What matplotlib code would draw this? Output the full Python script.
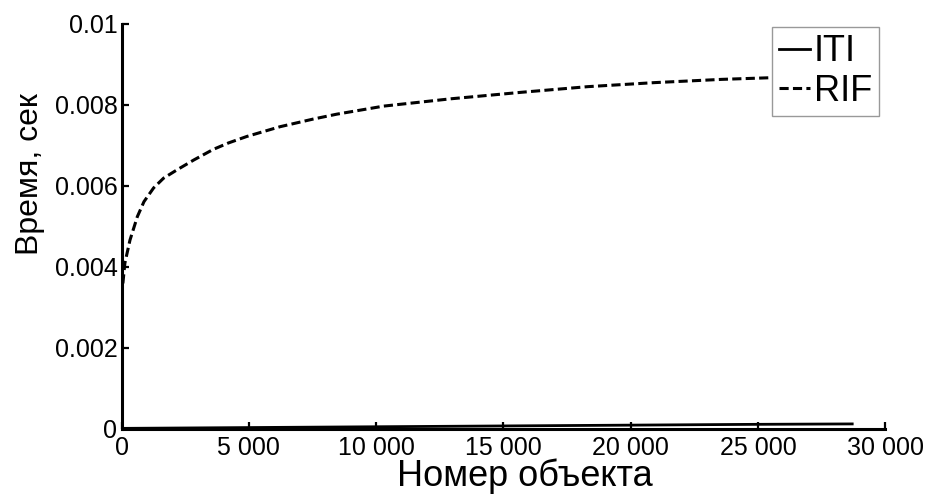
import matplotlib
matplotlib.use('Agg')
import matplotlib.pyplot as plt

# RIF curve
rif_x = [0, 130, 330, 620, 880, 1260, 1650, 2190, 2840, 3600, 4200, 4920, 6220,
         7530, 8450, 10300, 12930, 15690, 18310, 20940, 23570, 25930, 28700]
rif_y = [0.00326, 0.00409, 0.00466, 0.00524, 0.00561, 0.00595, 0.00619, 0.00640,
         0.00664, 0.00690, 0.00706, 0.00722, 0.00746, 0.00765, 0.00777, 0.00797,
         0.00815, 0.00831, 0.00845, 0.00855, 0.00863, 0.00868, 0.00873]

# ITI stays close to zero
iti_x = [0, 5000, 10000, 15000, 20000, 25000, 28700]
iti_y = [0.00001, 0.00003, 0.00005, 0.00007, 0.00009, 0.00011, 0.00012]

xticks = [0, 5000, 10000, 15000, 20000, 25000, 30000]
xtick_labels = ['0', '5 000', '10 000', '15 000', '20 000', '25 000', '30 000']
yticks = [0, 0.002, 0.004, 0.006, 0.008, 0.01]
ytick_labels = ['0', '0.002', '0.004', '0.006', '0.008', '0.01']

plt.rcParams['font.family'] = ['Liberation Sans', 'DejaVu Sans']

fig = plt.figure(figsize=(9.28, 4.98), dpi=100)
ax = fig.add_axes([0.131, 0.139, 0.823, 0.813])

ax.plot(iti_x, iti_y, color='black', lw=2.0, label='ITI')
ax.plot(rif_x, rif_y, color='black', lw=2.2, linestyle=(0, (3.0, 1.4)), label='RIF')

ax.set_xlim(0, 30000)
ax.set_ylim(0, 0.01)
ax.set_xticks(xticks)
ax.set_xticklabels(xtick_labels)
ax.set_yticks(yticks)
ax.set_yticklabels(ytick_labels)

for s in ['top', 'right']:
    ax.spines[s].set_visible(False)
for s in ['left', 'bottom']:
    ax.spines[s].set_linewidth(2.2)

ax.tick_params(direction='in', length=5, width=1.6, labelsize=18, pad=3)
ax.tick_params(axis='x', pad=5)
ax.set_xlabel('Номер объекта', fontsize=26, va='top')
ax.xaxis.set_label_coords(0.528, -0.073)
ax.set_ylabel('Время, сек', fontsize=23)
ax.yaxis.set_label_coords(-0.100, 0.629)

leg = ax.legend(loc='upper right', bbox_to_anchor=(879 / 928, 1 - 27 / 498),
                bbox_transform=fig.transFigure, borderaxespad=0, fontsize=26,
                fancybox=False, framealpha=1, edgecolor='#999999',
                handlelength=0.85, handletextpad=0.1, labelspacing=0.12,
                borderpad=0.2)
leg.get_frame().set_linewidth(1.0)

fig.savefig('out.png', dpi=100)
